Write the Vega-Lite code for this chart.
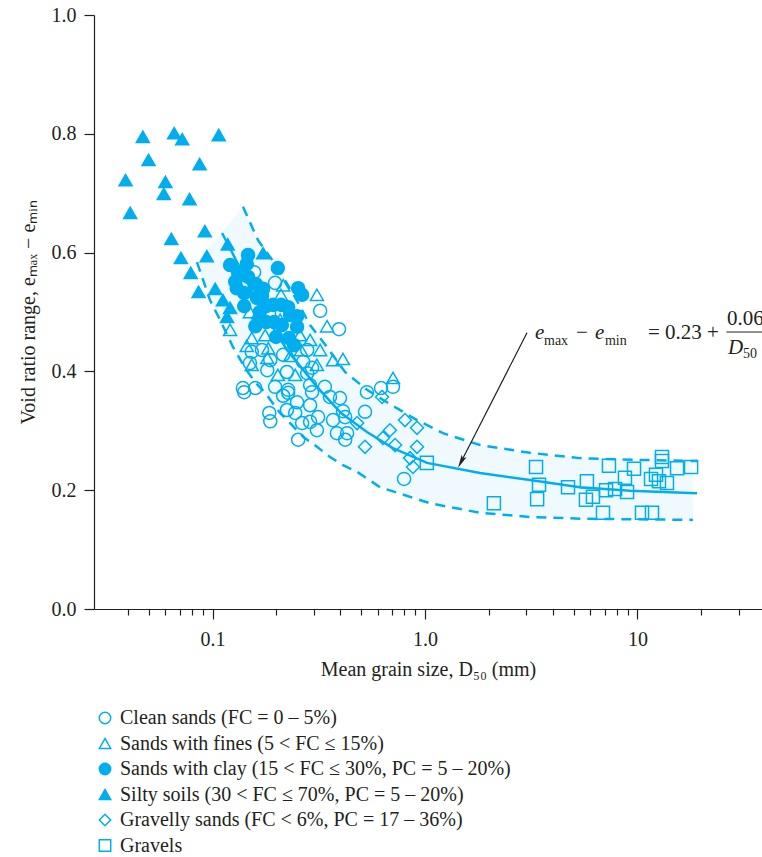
{
  "$schema": "https://vega.github.io/schema/vega-lite/v6.json",
  "width": 668,
  "height": 594,
  "autosize": {"type": "none"},
  "padding": {"left": 94, "top": 15, "right": 0, "bottom": 248},
  "background": "white",
  "config": {
    "view": {"stroke": null},
    "font": "Liberation Serif",
    "axis": {
      "domainColor": "#231F20", "tickColor": "#231F20", "labelColor": "#231F20", "titleColor": "#231F20",
      "labelFont": "Liberation Serif", "titleFont": "Liberation Serif",
      "labelFontSize": 20, "titleFontSize": 20, "titleFontWeight": "normal",
      "grid": false, "domainWidth": 1.2, "tickWidth": 1.2
    },
    "legend": {
      "labelFont": "Liberation Serif", "labelFontSize": 20, "labelColor": "#231F20", "labelLimit": 1000,
      "symbolSize": 130, "padding": 0, "rowPadding": 5.5, "labelOffset": 5
    }
  },
  "datasets": {
    "pts": [
      {"D":0.121,"e":0.579,"t":"clay"},{"D":0.128,"e":0.551,"t":"clay"},{"D":0.132,"e":0.566,"t":"clay"},{"D":0.147,"e":0.596,"t":"clay"},
      {"D":0.145,"e":0.581,"t":"clay"},{"D":0.147,"e":0.559,"t":"clay"},{"D":0.130,"e":0.540,"t":"clay"},{"D":0.141,"e":0.532,"t":"clay"},
      {"D":0.160,"e":0.547,"t":"clay"},{"D":0.173,"e":0.539,"t":"clay"},{"D":0.162,"e":0.524,"t":"clay"},{"D":0.203,"e":0.574,"t":"clay"},
      {"D":0.253,"e":0.540,"t":"clay"},{"D":0.264,"e":0.529,"t":"clay"},{"D":0.179,"e":0.510,"t":"clay"},{"D":0.193,"e":0.512,"t":"clay"},
      {"D":0.210,"e":0.512,"t":"clay"},{"D":0.227,"e":0.508,"t":"clay"},{"D":0.167,"e":0.500,"t":"clay"},{"D":0.166,"e":0.485,"t":"clay"},
      {"D":0.179,"e":0.483,"t":"clay"},{"D":0.195,"e":0.483,"t":"clay"},{"D":0.232,"e":0.495,"t":"clay"},{"D":0.250,"e":0.493,"t":"clay"},
      {"D":0.250,"e":0.475,"t":"clay"},{"D":0.159,"e":0.476,"t":"clay"},{"D":0.212,"e":0.478,"t":"clay"},{"D":0.199,"e":0.458,"t":"clay"},
      {"D":0.229,"e":0.456,"t":"clay"},{"D":0.242,"e":0.444,"t":"clay"},{"D":0.171,"e":0.527,"t":"clay"},{"D":0.141,"e":0.510,"t":"clay"},
      {"D":0.039,"e":0.722,"t":"silty"},{"D":0.041,"e":0.667,"t":"silty"},{"D":0.047,"e":0.795,"t":"silty"},{"D":0.050,"e":0.756,"t":"silty"},
      {"D":0.059,"e":0.699,"t":"silty"},{"D":0.060,"e":0.719,"t":"silty"},{"D":0.064,"e":0.623,"t":"silty"},{"D":0.066,"e":0.801,"t":"silty"},
      {"D":0.071,"e":0.591,"t":"silty"},{"D":0.072,"e":0.791,"t":"silty"},{"D":0.078,"e":0.690,"t":"silty"},{"D":0.079,"e":0.566,"t":"silty"},
      {"D":0.086,"e":0.534,"t":"silty"},{"D":0.087,"e":0.749,"t":"silty"},{"D":0.092,"e":0.636,"t":"silty"},{"D":0.094,"e":0.594,"t":"silty"},
      {"D":0.103,"e":0.539,"t":"silty"},{"D":0.107,"e":0.798,"t":"silty"},{"D":0.112,"e":0.520,"t":"silty"},{"D":0.118,"e":0.614,"t":"silty"},
      {"D":0.121,"e":0.507,"t":"silty"},{"D":0.117,"e":0.492,"t":"silty"},{"D":0.173,"e":0.599,"t":"silty"},
      {"D":0.157,"e":0.567,"t":"clean"},{"D":0.197,"e":0.549,"t":"clean"},{"D":0.321,"e":0.502,"t":"clean"},{"D":0.212,"e":0.498,"t":"clean"},
      {"D":0.394,"e":0.471,"t":"clean"},{"D":0.171,"e":0.436,"t":"clean"},{"D":0.215,"e":0.428,"t":"clean"},{"D":0.279,"e":0.436,"t":"clean"},
      {"D":0.153,"e":0.433,"t":"clean"},{"D":0.150,"e":0.414,"t":"clean"},{"D":0.181,"e":0.402,"t":"clean"},{"D":0.224,"e":0.399,"t":"clean"},
      {"D":0.267,"e":0.416,"t":"clean"},{"D":0.294,"e":0.406,"t":"clean"},{"D":0.187,"e":0.419,"t":"clean"},{"D":0.279,"e":0.397,"t":"clean"},
      {"D":0.139,"e":0.372,"t":"clean"},{"D":0.159,"e":0.372,"t":"clean"},{"D":0.197,"e":0.374,"t":"clean"},{"D":0.227,"e":0.369,"t":"clean"},
      {"D":0.288,"e":0.377,"t":"clean"},{"D":0.338,"e":0.374,"t":"clean"},{"D":0.215,"e":0.359,"t":"clean"},{"D":0.250,"e":0.348,"t":"clean"},
      {"D":0.288,"e":0.343,"t":"clean"},{"D":0.357,"e":0.357,"t":"clean"},{"D":0.398,"e":0.355,"t":"clean"},{"D":0.141,"e":0.365,"t":"clean"},
      {"D":0.227,"e":0.364,"t":"clean"},{"D":0.294,"e":0.365,"t":"clean"},{"D":0.185,"e":0.330,"t":"clean"},{"D":0.187,"e":0.316,"t":"clean"},
      {"D":0.224,"e":0.335,"t":"clean"},{"D":0.245,"e":0.330,"t":"clean"},{"D":0.264,"e":0.313,"t":"clean"},{"D":0.288,"e":0.315,"t":"clean"},
      {"D":0.314,"e":0.323,"t":"clean"},{"D":0.369,"e":0.318,"t":"clean"},{"D":0.421,"e":0.323,"t":"clean"},{"D":0.522,"e":0.332,"t":"clean"},
      {"D":0.411,"e":0.333,"t":"clean"},{"D":0.533,"e":0.365,"t":"clean"},{"D":0.621,"e":0.372,"t":"clean"},{"D":0.310,"e":0.301,"t":"clean"},
      {"D":0.385,"e":0.296,"t":"clean"},{"D":0.430,"e":0.296,"t":"clean"},{"D":0.421,"e":0.285,"t":"clean"},{"D":0.253,"e":0.285,"t":"clean"},
      {"D":0.797,"e":0.219,"t":"clean"},{"D":0.707,"e":0.374,"t":"clean"},
      {"D":0.215,"e":0.545,"t":"fines"},{"D":0.210,"e":0.529,"t":"fines"},{"D":0.310,"e":0.529,"t":"fines"},{"D":0.150,"e":0.500,"t":"fines"},
      {"D":0.164,"e":0.498,"t":"fines"},{"D":0.346,"e":0.476,"t":"fines"},{"D":0.177,"e":0.461,"t":"fines"},{"D":0.153,"e":0.456,"t":"fines"},
      {"D":0.145,"e":0.443,"t":"fines"},{"D":0.258,"e":0.461,"t":"fines"},{"D":0.288,"e":0.453,"t":"fines"},{"D":0.321,"e":0.436,"t":"fines"},
      {"D":0.183,"e":0.439,"t":"fines"},{"D":0.261,"e":0.436,"t":"fines"},{"D":0.153,"e":0.411,"t":"fines"},{"D":0.181,"e":0.423,"t":"fines"},
      {"D":0.203,"e":0.394,"t":"fines"},{"D":0.245,"e":0.394,"t":"fines"},{"D":0.310,"e":0.411,"t":"fines"},{"D":0.369,"e":0.419,"t":"fines"},
      {"D":0.411,"e":0.421,"t":"fines"},{"D":0.707,"e":0.389,"t":"fines"},{"D":0.121,"e":0.470,"t":"fines"},{"D":0.232,"e":0.426,"t":"fines"},
      {"D":0.208,"e":0.487,"t":"fines"},
      {"D":0.628,"e":0.357,"t":"gravelly"},{"D":0.805,"e":0.318,"t":"gravelly"},{"D":0.917,"e":0.305,"t":"gravelly"},{"D":0.684,"e":0.301,"t":"gravelly"},
      {"D":0.634,"e":0.288,"t":"gravelly"},{"D":0.522,"e":0.273,"t":"gravelly"},{"D":0.723,"e":0.276,"t":"gravelly"},{"D":0.917,"e":0.273,"t":"gravelly"},
      {"D":0.479,"e":0.313,"t":"gravelly"},{"D":0.850,"e":0.254,"t":"gravelly"},{"D":0.878,"e":0.239,"t":"gravelly"},
      {"D":1.02,"e":0.246,"t":"gravels"},{"D":3.33,"e":0.239,"t":"gravels"},{"D":3.44,"e":0.209,"t":"gravels"},{"D":3.37,"e":0.185,"t":"gravels"},
      {"D":2.11,"e":0.178,"t":"gravels"},{"D":4.71,"e":0.205,"t":"gravels"},{"D":5.78,"e":0.215,"t":"gravels"},{"D":6.17,"e":0.189,"t":"gravels"},
      {"D":5.72,"e":0.184,"t":"gravels"},{"D":6.88,"e":0.162,"t":"gravels"},{"D":7.34,"e":0.241,"t":"gravels"},{"D":7.11,"e":0.200,"t":"gravels"},
      {"D":7.84,"e":0.202,"t":"gravels"},{"D":8.73,"e":0.221,"t":"gravels"},{"D":8.93,"e":0.197,"t":"gravels"},{"D":9.63,"e":0.236,"t":"gravels"},
      {"D":10.5,"e":0.162,"t":"gravels"},{"D":11.7,"e":0.162,"t":"gravels"},{"D":11.58,"e":0.219,"t":"gravels"},{"D":12.22,"e":0.226,"t":"gravels"},
      {"D":12.62,"e":0.215,"t":"gravels"},{"D":13.76,"e":0.212,"t":"gravels"},{"D":13.04,"e":0.256,"t":"gravels"},{"D":13.04,"e":0.249,"t":"gravels"},
      {"D":15.35,"e":0.237,"t":"gravels"},{"D":17.87,"e":0.239,"t":"gravels"}
    ],
    "band": [
      {"D":0.0845,"lo":0.584,"hi":0.584},{"D":0.0973,"lo":0.520,"hi":0.611},{"D":0.1084,"lo":0.487,"hi":0.630},
      {"D":0.1249,"lo":0.441,"hi":0.657},{"D":0.1392,"lo":0.412,"hi":0.677},{"D":0.1637,"lo":0.377,"hi":0.621},
      {"D":0.2013,"lo":0.337,"hi":0.576},{"D":0.2445,"lo":0.305,"hi":0.525},{"D":0.2876,"lo":0.281,"hi":0.478},
      {"D":0.3458,"lo":0.259,"hi":0.441},{"D":0.4205,"lo":0.241,"hi":0.399},{"D":0.5333,"lo":0.220,"hi":0.369},
      {"D":0.6343,"lo":0.204,"hi":0.352},{"D":0.917,"lo":0.185,"hi":0.318},{"D":1.215,"lo":0.174,"hi":0.296},
      {"D":1.815,"lo":0.162,"hi":0.276},{"D":3.119,"lo":0.155,"hi":0.263},{"D":5.36,"lo":0.152,"hi":0.254},
      {"D":10.28,"lo":0.151,"hi":0.251},{"D":18.24,"lo":0.150,"hi":0.249}
    ],
    "upper": [
      {"D":0.1392,"e":0.677},{"D":0.1637,"e":0.621},{"D":0.2013,"e":0.576},{"D":0.2445,"e":0.525},
      {"D":0.2876,"e":0.478},{"D":0.3458,"e":0.441},{"D":0.4205,"e":0.399},{"D":0.5333,"e":0.369},
      {"D":0.6343,"e":0.352},{"D":0.917,"e":0.318},{"D":1.215,"e":0.296},{"D":1.815,"e":0.276},
      {"D":3.119,"e":0.263},{"D":5.36,"e":0.254},{"D":10.28,"e":0.251},{"D":19.05,"e":0.249}
    ],
    "center": [
      {"D":0.1109,"e":0.633},{"D":0.1222,"e":0.604},{"D":0.1422,"e":0.557},{"D":0.1674,"e":0.508},
      {"D":0.2243,"e":0.436},{"D":0.3103,"e":0.374},{"D":0.4026,"e":0.330},{"D":0.5333,"e":0.298},
      {"D":0.7066,"e":0.271},{"D":1.022,"e":0.246},{"D":1.815,"e":0.229},{"D":3.119,"e":0.217},
      {"D":5.36,"e":0.205},{"D":9.22,"e":0.199},{"D":19.05,"e":0.195}
    ],
    "lower": [
      {"D":0.0845,"e":0.584},{"D":0.0973,"e":0.520},{"D":0.1084,"e":0.487},{"D":0.1249,"e":0.441},
      {"D":0.1422,"e":0.406},{"D":0.1585,"e":0.382},{"D":0.1768,"e":0.364},{"D":0.2078,"e":0.330},
      {"D":0.2317,"e":0.313},{"D":0.2667,"e":0.290},{"D":0.3103,"e":0.273},{"D":0.3573,"e":0.256},
      {"D":0.4113,"e":0.242},{"D":0.4786,"e":0.231},{"D":0.6141,"e":0.205},{"D":1.056,"e":0.178},
      {"D":1.815,"e":0.162},{"D":3.119,"e":0.155},{"D":5.36,"e":0.152},{"D":18.24,"e":0.150}
    ],
    "arrow": [{"D":3.02,"e":0.465,"D2":1.48,"e2":0.248}],
    "head": [{"D":1.48,"e":0.248}],
    "eqItalic": [
      {"D":3.293,"e":0.4545,"t":"e"},
      {"D":6.31,"e":0.4545,"t":"e"},
      {"D":26.66,"e":0.4293,"t":"D"}
    ],
    "eqMain": [
      {"D":5.135,"e":0.4545,"t":"−"},
      {"D":11.2,"e":0.4545,"t":"= 0.23 +"},
      {"D":26.37,"e":0.478,"t":"0.06"}
    ],
    "eqSub": [
      {"D":3.631,"e":0.4444,"t":"max"},
      {"D":7.03,"e":0.4444,"t":"min"},
      {"D":31.37,"e":0.4226,"t":"50"}
    ],
    "bar": [{"D":26.2,"D2":45,"e":0.4663}]
  },
  "resolve": {"axis": {"x": "independent", "y": "independent"}},
  "layer": [
    {
      "data": {"name": "band"},
      "mark": {"type": "area", "color": "#00AEEF", "opacity": 0.06},
      "encoding": {
        "x": {"field": "D", "type": "quantitative", "scale": {"type": "log", "domain": [0.02769, 38.54], "nice": false},
              "axis": {"orient": "bottom", "values": [0.04,0.05,0.06,0.07,0.08,0.09,0.2,0.3,0.4,0.5,0.6,0.7,0.8,0.9,2,3,4,5,6,7,8,9,20,30],
                       "labels": false, "domain": false, "tickSize": 6, "title": null}},
        "y": {"field": "hi", "type": "quantitative", "scale": {"domain": [0, 1], "nice": false}, "axis": null},
        "y2": {"field": "lo"}
      }
    },
    {
      "data": {"name": "upper"},
      "mark": {"type": "line", "color": "#00AEEF", "strokeWidth": 2.5, "strokeDash": [10, 7]},
      "encoding": {
        "x": {"field": "D", "type": "quantitative", "axis": null},
        "y": {"field": "e", "type": "quantitative", "axis": null}
      }
    },
    {
      "data": {"name": "lower"},
      "mark": {"type": "line", "color": "#00AEEF", "strokeWidth": 2.5, "strokeDash": [10, 7]},
      "encoding": {
        "x": {"field": "D", "type": "quantitative", "axis": null},
        "y": {"field": "e", "type": "quantitative", "axis": null}
      }
    },
    {
      "data": {"name": "center"},
      "mark": {"type": "line", "color": "#00AEEF", "strokeWidth": 2.5},
      "encoding": {
        "x": {"field": "D", "type": "quantitative", "axis": null},
        "y": {"field": "e", "type": "quantitative", "axis": null}
      }
    },
    {
      "data": {"name": "pts"},
      "mark": {"type": "point", "filled": true, "stroke": "#00AEEF", "strokeWidth": 1.5, "size": 170, "opacity": 1},
      "encoding": {
        "x": {"field": "D", "type": "quantitative",
              "axis": {"orient": "bottom", "values": [0.1, 1, 10], "labelExpr": "datum.value < 0.5 ? '0.1' : datum.value < 5 ? '1.0' : '10'",
                       "tickSize": 10, "labelPadding": 10, "title": "Mean grain size, D₅₀ (mm)", "titlePadding": 10}},
        "y": {"field": "e", "type": "quantitative",
              "axis": {"orient": "left", "values": [0, 0.2, 0.4, 0.6, 0.8, 1.0], "format": ".1f", "tickSize": 10, "labelPadding": 8,
                       "title": "Void ratio range, eₘₐₓ − eₘᵢₙ", "titlePadding": 13}},
        "shape": {"field": "t", "type": "nominal",
                  "scale": {"domain": ["clean","fines","clay","silty","gravelly","gravels"],
                            "range": ["circle","triangle-up","circle","triangle-up","diamond","square"]},
                  "legend": {"title": null, "orient": "none", "legendX": 1, "legendY": 693,
                             "encode": {"symbols": {"update": {"stroke": {"value": "#00AEEF"}, "strokeWidth": {"value": 1.5}}}},
                             "labelExpr": "datum.value == 'clean' ? 'Clean sands (FC = 0 – 5%)' : datum.value == 'fines' ? 'Sands with fines (5 < FC ≤ 15%)' : datum.value == 'clay' ? 'Sands with clay (15 < FC ≤ 30%, PC = 5 – 20%)' : datum.value == 'silty' ? 'Silty soils (30 < FC ≤ 70%, PC = 5 – 20%)' : datum.value == 'gravelly' ? 'Gravelly sands (FC < 6%, PC = 17 – 36%)' : 'Gravels'"}},
        "fill": {"field": "t", "type": "nominal",
                 "scale": {"domain": ["clean","fines","clay","silty","gravelly","gravels"],
                           "range": ["transparent","transparent","#00AEEF","#00AEEF","transparent","transparent"]},
                 "legend": {"title": null, "orient": "none", "legendX": 1, "legendY": 693,
                            "encode": {"symbols": {"update": {"stroke": {"value": "#00AEEF"}, "strokeWidth": {"value": 1.5}}}},
                            "labelExpr": "datum.value == 'clean' ? 'Clean sands (FC = 0 – 5%)' : datum.value == 'fines' ? 'Sands with fines (5 < FC ≤ 15%)' : datum.value == 'clay' ? 'Sands with clay (15 < FC ≤ 30%, PC = 5 – 20%)' : datum.value == 'silty' ? 'Silty soils (30 < FC ≤ 70%, PC = 5 – 20%)' : datum.value == 'gravelly' ? 'Gravelly sands (FC < 6%, PC = 17 – 36%)' : 'Gravels'"}}
      }
    },
    {
      "data": {"name": "arrow"},
      "mark": {"type": "rule", "color": "#231F20", "strokeWidth": 1.2},
      "encoding": {
        "x": {"field": "D", "type": "quantitative", "axis": null},
        "x2": {"field": "D2"},
        "y": {"field": "e", "type": "quantitative", "axis": null},
        "y2": {"field": "e2"}
      }
    },
    {
      "data": {"name": "head"},
      "mark": {"type": "point", "shape": "M0,-1L0.38,0.9L0,0.55L-0.38,0.9Z", "filled": true, "color": "#231F20",
               "opacity": 1, "size": 200, "angle": 207, "strokeWidth": 0},
      "encoding": {
        "x": {"field": "D", "type": "quantitative", "axis": null},
        "y": {"field": "e", "type": "quantitative", "axis": null}
      }
    },
    {
      "data": {"name": "eqItalic"},
      "mark": {"type": "text", "align": "left", "baseline": "alphabetic", "font": "Liberation Serif", "fontStyle": "italic", "fontSize": 21, "color": "#231F20"},
      "encoding": {
        "x": {"field": "D", "type": "quantitative", "axis": null},
        "y": {"field": "e", "type": "quantitative", "axis": null},
        "text": {"field": "t"}
      }
    },
    {
      "data": {"name": "eqMain"},
      "mark": {"type": "text", "align": "left", "baseline": "alphabetic", "font": "Liberation Serif", "fontSize": 21, "color": "#231F20"},
      "encoding": {
        "x": {"field": "D", "type": "quantitative", "axis": null},
        "y": {"field": "e", "type": "quantitative", "axis": null},
        "text": {"field": "t"}
      }
    },
    {
      "data": {"name": "eqSub"},
      "mark": {"type": "text", "align": "left", "baseline": "alphabetic", "font": "Liberation Serif", "fontSize": 14, "color": "#231F20"},
      "encoding": {
        "x": {"field": "D", "type": "quantitative", "axis": null},
        "y": {"field": "e", "type": "quantitative", "axis": null},
        "text": {"field": "t"}
      }
    },
    {
      "data": {"name": "bar"},
      "mark": {"type": "rule", "color": "#231F20", "strokeWidth": 1},
      "encoding": {
        "x": {"field": "D", "type": "quantitative", "axis": null},
        "x2": {"field": "D2"},
        "y": {"field": "e", "type": "quantitative", "axis": null}
      }
    }
  ]
}
